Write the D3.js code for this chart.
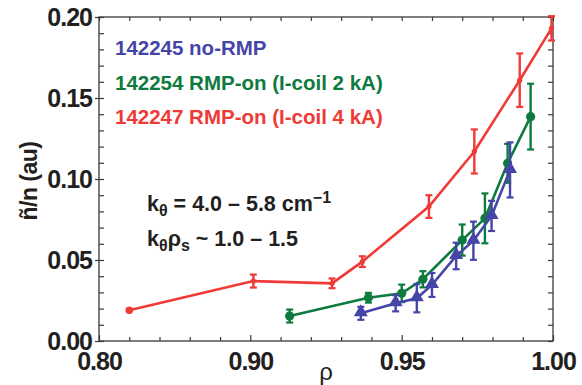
<!DOCTYPE html>
<html>
<head>
<meta charset="utf-8">
<script src="https://cdn.jsdelivr.net/npm/d3@7/dist/d3.min.js"></script>
<style>
  html, body { margin: 0; padding: 0; background: #fff; }
  svg { display: block; }
  text { font-family: "Liberation Sans", Arial, Helvetica, sans-serif; }
</style>
</head>
<body>
<svg id="chart" width="582" height="385"></svg>
<script>
// ---------- data ----------
const xTickLabels = [0.80, 0.90, 0.95, 1.00];
const xMinorTicks = [0.82, 0.84, 0.86, 0.88, 0.91, 0.92, 0.93, 0.94, 0.96, 0.97, 0.98, 0.99];
const yTickLabels = [0.00, 0.05, 0.10, 0.15, 0.20];
const yMinorTicks = [0.01,0.02,0.03,0.04,0.06,0.07,0.08,0.09,0.11,0.12,0.13,0.14,0.16,0.17,0.18,0.19];

const legendLabels = ["142245 no-RMP", "142254 RMP-on (I-coil 2 kA)", "142247 RMP-on (I-coil 4 kA)"];

// 142247 RMP-on (I-coil 4 kA)  (red)
const redRho = [0.820, 0.901, 0.927, 0.937, 0.959, 0.974, 0.989, 0.9995];
const redVal = [0.019, 0.037, 0.0356, 0.049, 0.083, 0.117, 0.161, 0.193];
const redErr = [0.000, 0.004, 0.003, 0.0033, 0.007, 0.0136, 0.0165, 0.0075];

// 142254 RMP-on (I-coil 2 kA)  (green)
const greenRho = [0.913, 0.939, 0.950, 0.957, 0.970, 0.9775, 0.985, 0.9926];
const greenVal = [0.0154, 0.0267, 0.0294, 0.0381, 0.0623, 0.0757, 0.1097, 0.1385];
const greenErr = [0.004, 0.003, 0.0054, 0.005, 0.0096, 0.0154, 0.012, 0.0203];

// 142245 no-RMP  (blue)
const blueRho = [0.9365, 0.948, 0.955, 0.960, 0.968, 0.9737, 0.9797, 0.9858];
const blueVal = [0.0171, 0.0233, 0.0264, 0.0346, 0.0525, 0.0619, 0.0772, 0.1056];
const blueErr = [0.004, 0.005, 0.0087, 0.0074, 0.0082, 0.0118, 0.0093, 0.017];

const colors = { blue: "#4545a8", green: "#0d7a3e", red: "#ef3a36" };

// ---------- layout ----------
const L = 99, R = 553, T = 17, B = 341;
const svg = d3.select("#chart");

const x = d3.scaleLinear().domain([0.80, 0.90, 0.95, 1.00]).range([L, 250.3, 401.7, R]);
const y = d3.scaleLinear().domain([0, 0.20]).range([B, T]);

const axisColor = "#3a3a3a";

function styleAxis(g) {
  g.select(".domain").remove();
  g.selectAll(".tick line").attr("stroke", axisColor).attr("stroke-width", 1.2);
  g.selectAll("text").attr("fill", "#231f20").attr("font-weight", "bold")
    .attr("font-size", 25).attr("letter-spacing", -1);
}

// bottom axis
svg.append("g").attr("transform", `translate(0,${B})`)
  .call(d3.axisBottom(x).tickValues(xTickLabels).tickSizeInner(-6).tickSizeOuter(0)
        .tickPadding(11).tickFormat(d3.format(".2f")))
  .call(styleAxis);
svg.append("g").attr("transform", `translate(0,${B})`)
  .call(d3.axisBottom(x).tickValues(xMinorTicks).tickSizeInner(-4).tickSizeOuter(0).tickFormat(""))
  .call(styleAxis);
// top axis
svg.append("g").attr("transform", `translate(0,${T})`)
  .call(d3.axisTop(x).tickValues(xTickLabels.concat(xMinorTicks)).tickSizeInner(-4).tickSizeOuter(0).tickFormat(""))
  .call(styleAxis);

// left axis
svg.append("g").attr("transform", `translate(${L},0)`)
  .call(d3.axisLeft(y).tickValues(yTickLabels).tickSizeInner(4).tickSizeOuter(0)
        .tickPadding(3).tickFormat(d3.format(".2f")))
  .call(styleAxis);
svg.append("g").attr("transform", `translate(${L},0)`)
  .call(d3.axisLeft(y).tickValues(yTickLabels.concat(yMinorTicks)).tickSizeInner(-5).tickSizeOuter(0).tickFormat(""))
  .call(styleAxis);
// right axis
svg.append("g").attr("transform", `translate(${R},0)`)
  .call(d3.axisRight(y).tickValues(yTickLabels.concat(yMinorTicks)).tickSizeInner(-5).tickSizeOuter(0).tickFormat(""))
  .call(styleAxis);

// frame
svg.append("rect").attr("x", L).attr("y", T).attr("width", R - L).attr("height", B - T)
  .attr("fill", "none").attr("stroke", axisColor).attr("stroke-width", 1.3);

// axis titles
svg.append("text").attr("transform", `translate(37,${(T + B) / 2 + 2}) rotate(-90)`)
  .attr("text-anchor", "middle").attr("font-size", 23).attr("font-weight", "bold")
  .attr("fill", "#231f20").attr("letter-spacing", -0.5).text("ñ/n (au)");
svg.append("text").attr("x", (L + R) / 2).attr("y", 380).attr("text-anchor", "middle")
  .attr("font-size", 24).attr("fill", "#231f20").text("ρ");

// ---------- series ----------
const clip = svg.append("clipPath").attr("id", "plotclip")
  .append("rect").attr("x", L).attr("y", 0).attr("width", R - L + 10).attr("height", B);

const plot = svg.append("g").attr("clip-path", "url(#plotclip)");

function drawSeries(rho, val, err, color, marker) {
  const data = rho.map((r, i) => ({ r, v: val[i], e: err[i] }));
  const g = plot.append("g");
  g.append("path").datum(data)
    .attr("d", d3.line().x(d => x(d.r)).y(d => y(d.v)))
    .attr("fill", "none").attr("stroke", color).attr("stroke-width", 2.6);
  const eb = g.selectAll(".eb").data(data.filter(d => d.e > 0)).enter().append("g");
  eb.append("line").attr("x1", d => x(d.r)).attr("x2", d => x(d.r))
    .attr("y1", d => y(d.v - d.e)).attr("y2", d => y(d.v + d.e))
    .attr("stroke", color).attr("stroke-width", 2.4);
  [-1, 1].forEach(s => {
    eb.append("line").attr("x1", d => x(d.r) - 3.5).attr("x2", d => x(d.r) + 3.5)
      .attr("y1", d => y(d.v + s * d.e)).attr("y2", d => y(d.v + s * d.e))
      .attr("stroke", color).attr("stroke-width", 2.2);
  });
  if (marker === "triangle") {
    g.selectAll(".m").data(data).enter().append("path")
      .attr("d", d3.symbol().type(d3.symbolTriangle).size(85))
      .attr("transform", d => `translate(${x(d.r)},${y(d.v) - 1})`)
      .attr("fill", color);
  } else if (marker === "circle") {
    g.selectAll(".m").data(data).enter().append("circle")
      .attr("cx", d => x(d.r)).attr("cy", d => y(d.v)).attr("r", 4.6).attr("fill", color);
  } else {
    g.selectAll(".m").data(data).enter().append("circle")
      .attr("cx", d => x(d.r)).attr("cy", d => y(d.v))
      .attr("r", (d, i) => i === 0 ? 3.8 : 2.6).attr("fill", color);
  }
}

drawSeries(redRho, redVal, redErr, colors.red, "small");
drawSeries(greenRho, greenVal, greenErr, colors.green, "circle");
drawSeries(blueRho, blueVal, blueErr, colors.blue, "triangle");

// ---------- legend (coloured text) ----------
const legendColors = [colors.blue, colors.green, colors.red];
svg.append("g").selectAll("text").data(legendLabels).enter().append("text")
  .attr("x", 115).attr("y", (d, i) => 55 + i * 34.5)
  .attr("font-size", 20.5).attr("font-weight", "bold")
  .attr("fill", (d, i) => legendColors[i]).text(d => d);

// ---------- annotation ----------
const ann = svg.append("g").attr("font-weight", "bold").attr("fill", "#231f20").attr("font-size", 21.5);
const t1 = ann.append("text").attr("x", 147).attr("y", 211);
t1.append("tspan").text("k");
t1.append("tspan").attr("dy", 5).attr("font-size", 16).text("θ");
t1.append("tspan").attr("dy", -5).text(" = 4.0 – 5.8 cm");
t1.append("tspan").attr("dy", -8).attr("font-size", 16).text("−1");

const t2 = ann.append("text").attr("x", 147).attr("y", 246);
t2.append("tspan").text("k");
t2.append("tspan").attr("dy", 5).attr("font-size", 16).text("θ");
t2.append("tspan").attr("dy", -5).text("ρ");
t2.append("tspan").attr("dy", 5).attr("font-size", 16).text("s");
t2.append("tspan").attr("dy", -5).text(" ~ 1.0 – 1.5");
</script>
</body>
</html>
